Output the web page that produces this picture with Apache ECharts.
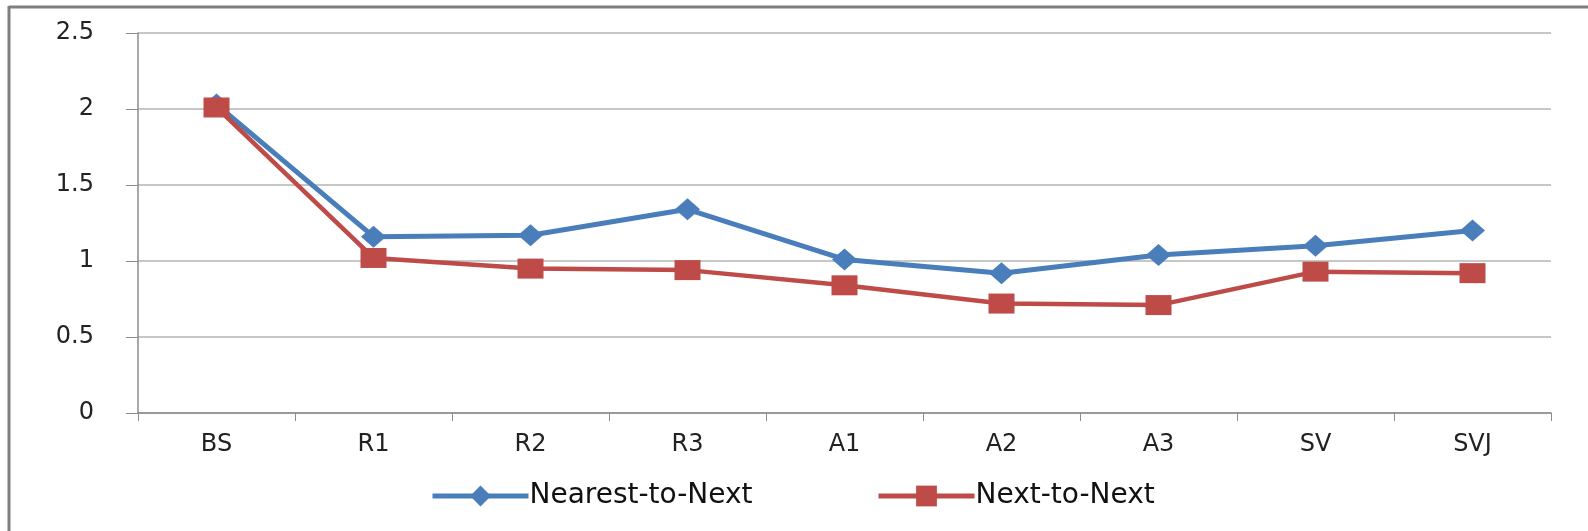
<!DOCTYPE html>
<html>
<head>
<meta charset="utf-8">
<script src="https://cdn.jsdelivr.net/npm/echarts@6/dist/echarts.min.js"></script>
<style>
html,body{margin:0;padding:0;background:#fff;}
#chart{width:1588px;height:531px;}
</style>
</head>
<body>
<div id="chart"></div>
<script>
const categories = ['BS','R1','R2','R3','A1','A2','A3','SV','SVJ'];
const nearestToNext = [2.03,1.16,1.17,1.34,1.01,0.92,1.04,1.10,1.20];
const nextToNext = [2.01,1.02,0.95,0.94,0.84,0.72,0.71,0.93,0.92];
const seriesNames = ['Nearest-to-Next','Next-to-Next'];
const yTicks = {min:0, max:2.5, interval:0.5};

const chart = echarts.init(document.getElementById('chart'));
const font = 'DejaVu Sans';
const blue = '#4a7ebb', red = '#be4b48';
const legendCommon = {
  bottom:16,
  itemWidth:96, itemHeight:26,
  textStyle:{fontFamily:font, fontSize:28, color:'#111', padding:[0,0,0,-4]}
};
chart.setOption({
  animation:false,
  backgroundColor:'#ffffff',
  graphic:[
    {type:'line', z:100, shape:{x1:9, y1:7, x2:1588, y2:7}, style:{stroke:'#7f7f7f', lineWidth:3}},
    {type:'line', z:100, shape:{x1:9, y1:6, x2:9, y2:531}, style:{stroke:'#7f7f7f', lineWidth:3}}
  ],
  grid:{left:138, right:37, top:33, bottom:118},
  legend:[
    Object.assign({left:425, data:[{name:seriesNames[0], lineStyle:{width:5, color:blue}, itemStyle:{color:blue}}]}, legendCommon),
    Object.assign({left:871, data:[{name:seriesNames[1], lineStyle:{width:5, color:red}, itemStyle:{color:red}}]}, legendCommon)
  ],
  xAxis:{
    type:'category', data:categories, boundaryGap:true,
    axisLine:{lineStyle:{color:'#8c8c8c', width:1.5}},
    axisTick:{show:true, length:8, lineStyle:{color:'#8c8c8c'}},
    axisLabel:{fontFamily:font, fontSize:24, color:'#222', margin:20}
  },
  yAxis:{
    type:'value', min:yTicks.min, max:yTicks.max, interval:yTicks.interval,
    axisLine:{show:true, lineStyle:{color:'#8c8c8c', width:1.5}},
    axisTick:{show:true, length:12, lineStyle:{color:'#8c8c8c'}},
    splitLine:{lineStyle:{color:'#b4b4b4', width:1.5}},
    axisLabel:{fontFamily:font, fontSize:24, color:'#222', margin:44}
  },
  series:[
    {
      name:seriesNames[0], type:'line', data:nearestToNext,
      symbol:'diamond', symbolSize:[25,22],
      lineStyle:{color:blue, width:5},
      itemStyle:{color:blue}
    },
    {
      name:seriesNames[1], type:'line', data:nextToNext,
      symbol:'rect', symbolSize:[26,20],
      lineStyle:{color:red, width:4.5},
      itemStyle:{color:red}
    }
  ]
});
</script>
</body>
</html>
